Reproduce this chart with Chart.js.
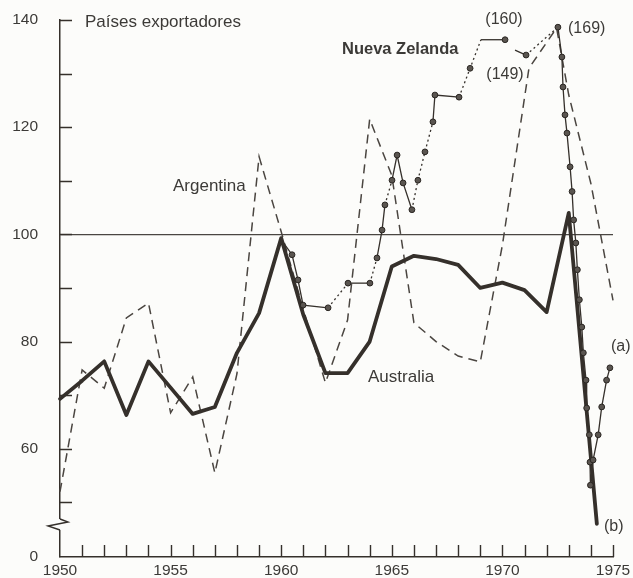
<!DOCTYPE html>
<html lang="es">
<head>
<meta charset="utf-8">
<title>Países exportadores</title>
<script src="https://cdn.jsdelivr.net/npm/chart.js@4/dist/chart.umd.min.js"></script>
<style>
  html, body { margin: 0; padding: 0; background: #fcfcfa; }
  #wrap { position: relative; width: 633px; height: 578px; }
</style>
</head>
<body>
<div id="wrap"><canvas id="c" width="633" height="578"></canvas></div>
<script>
// Australia: annual index, then the 1974 collapse (b)
const ausYears  = [1950,1951,1952,1953,1954,1955,1956,1957,1958,1959,1960,1961,1962,1963,1964,1965,1966,1967,1968,1969,1970,1971,1972,1973,1974.27];
const ausValues = [69.3,72.7,76.3,66.3,76.3,71.4,66.5,67.8,77.9,85.3,99.3,85.0,74.1,74.1,80.0,94.0,96.0,95.4,94.3,90.0,91.0,89.6,85.5,104.0,46.0];

// Argentina: annual index
const argYears  = [1950,1951,1952,1953,1954,1955,1956,1957,1958,1959,1960,1961,1962,1963,1964,1965,1966,1967,1968,1969,1970,1971.2,1972.45,1973,1974,1975];
const argValues = [52.0,74.7,71.3,84.4,87.2,66.7,73.4,55.5,74.0,114.5,100.5,86.0,72.3,84.0,121.5,111.0,83.5,80.0,77.3,76.2,98.0,131.0,138.5,126.0,109.5,87.7];

// Nueva Zelanda: sub-annual observations; null marks a break in the record, the last run is (a)
const nzYears  = [1960.0,1960.49,1960.76,1960.99,1962.12,1963.02,1964.01,1964.33,1964.56,1964.69,1965.01,1965.24,1965.51,1965.91,1966.18,1966.5,1966.86,1966.95,1968.04,1968.54,1969.03,1970.12,1970.35,1970.57,1971.07,1972.51,1972.69,1972.74,1972.83,1972.92,1973.06,1973.15,1973.22,1973.32,1973.39,1973.48,1973.59,1973.66,1973.78,1973.81,1973.93,1973.96,1973.98,1974.1,1974.33,1974.49,1974.71,1974.86];
const nzValues = [99.0,96.2,91.5,86.8,86.3,90.9,90.9,95.6,100.8,105.5,110.1,114.8,109.6,104.6,110.1,115.4,121.0,126.0,125.6,139.5,160,160,null,152.5,149,169,147.6,127.5,122.3,118.9,112.6,108.0,102.7,98.4,93.4,87.8,82.7,77.9,72.8,67.6,62.6,57.5,53.2,57.9,62.6,67.8,72.8,75.1];

// Axis ticks
const yFloor = 39.8;                       // bottom of the broken axis, labelled 0
const yTicks = [yFloor,50,60,70,80,90,100,110,120,130,140];
const yearLabels = [1950,1955,1960,1965,1970,1975];

// Values above the knee are drawn on a compressed strip at the top of the plot
const KNEE = 128, RATIO = 0.26;
const squash   = v => (v != null && v > KNEE) ? KNEE + (v - KNEE) * RATIO : v;
const unsquash = v => (v != null && v > KNEE) ? KNEE + (v - KNEE) / RATIO : v;

class CompressedTopScale extends Chart.LinearScale {
  getPixelForValue(v, i) { return super.getPixelForValue(squash(v), i); }
  getValueForPixel(p) { return unsquash(super.getValueForPixel(p)); }
}
CompressedTopScale.id = 'compressedTop';
CompressedTopScale.defaults = Chart.LinearScale.defaults;
Chart.register(CompressedTopScale);

const INK = '#35302b';
const TEXT = '#3c3a37';
const FONT = '"Liberation Sans", Arial, Helvetica, sans-serif';

const pts = (xs, ys) => xs.map((x, i) => ({ x, y: ys[i] }));

// No marker at the start of a run, nor at the corner where a jump turns into a flat stretch
const nzMarker = i => {
  const prev = nzValues[i - 1];
  if (i === 0 || prev == null) return 0;
  const corner = nzValues[i] - prev > 15 && nzValues[i + 1] === nzValues[i];
  return corner ? 0 : 2.9;
};

// Free text placed on the plot
const notes = [
  { text: 'Países exportadores', x: 85,  y: 22,  align: 'left',   size: 17 },
  { text: 'Nueva Zelanda',       x: 342, y: 49,  align: 'left',   size: 16.5, bold: true },
  { text: '(160)',               x: 504, y: 20,  align: 'center', size: 16 },
  { text: '(169)',               x: 568, y: 29,  align: 'left',   size: 16 },
  { text: '(149)',               x: 505, y: 75,  align: 'center', size: 16 },
  { text: 'Argentina',           x: 173, y: 186, align: 'left',   size: 17 },
  { text: 'Australia',           x: 368, y: 377, align: 'left',   size: 17 },
  { text: '(a)',                 x: 611, y: 347, align: 'left',   size: 16 },
  { text: '(b)',                 x: 604, y: 527, align: 'left',   size: 16 }
];

// Inward tick marks, broken-axis symbol and the free text
const decorations = {
  id: 'decorations',
  afterDraw(chart) {
    const { ctx, chartArea: a, scales: { x, y } } = chart;
    ctx.save();
    ctx.strokeStyle = INK;
    ctx.lineWidth = 1.4;
    ctx.beginPath();
    yTicks.forEach(v => {
      if (v === yFloor) return;
      const py = Math.round(y.getPixelForValue(v)) + 0.5;
      ctx.moveTo(a.left, py); ctx.lineTo(a.left + 12, py);
    });
    for (let yr = 1951; yr <= 1975; yr++) {
      const px = Math.round(x.getPixelForValue(yr)) + 0.5;
      ctx.moveTo(px, a.bottom); ctx.lineTo(px, a.bottom - 12);
    }
    ctx.stroke();

    // break in the vertical axis
    const b0 = a.bottom - 38, b1 = a.bottom - 27;
    ctx.fillStyle = '#fcfcfa';
    ctx.fillRect(a.left - 3, b0, 6, b1 - b0);
    ctx.beginPath();
    ctx.moveTo(a.left, b0);
    ctx.lineTo(a.left + 8, b0 + 3);
    ctx.lineTo(a.left - 12, b0 + 7);
    ctx.lineTo(a.left, b1);
    ctx.stroke();

    ctx.fillStyle = TEXT;
    ctx.textBaseline = 'middle';
    notes.forEach(n => {
      ctx.font = (n.bold ? 'bold ' : '') + n.size + 'px ' + FONT;
      ctx.textAlign = n.align;
      ctx.fillText(n.text, n.x, n.y);
    });
    ctx.restore();
  }
};

new Chart(document.getElementById('c'), {
  type: 'line',
  data: {
    datasets: [
      {
        label: 'Nueva Zelanda',
        data: pts(nzYears, nzValues),
        yAxisID: 'yNZ',
        order: 0,
        borderColor: INK,
        borderWidth: 1.3,
        spanGaps: false,
        clip: false,
        pointRadius: ctx => nzMarker(ctx.dataIndex),
        pointBackgroundColor: '#5a5550',
        pointBorderColor: '#2a2622',
        pointBorderWidth: 1,
        segment: {
          borderDash: ctx => (ctx.p1.parsed.y > ctx.p0.parsed.y && ctx.p1.parsed.x - ctx.p0.parsed.x > 0.25) ? [2, 3] : undefined
        }
      },
      {
        label: 'Australia',
        data: pts(ausYears, ausValues),
        order: 1,
        borderColor: INK,
        borderWidth: 3.8,
        borderJoinStyle: 'round',
        borderCapStyle: 'round',
        pointRadius: 0,
        clip: false
      },
      {
        label: 'Argentina',
        data: pts(argYears, argValues),
        order: 2,
        borderColor: '#4a4540',
        borderWidth: 1.5,
        borderDash: [9, 6],
        pointRadius: 0,
        clip: false
      }
    ]
  },
  options: {
    responsive: false,
    animation: false,
    devicePixelRatio: 1,
    layout: { autoPadding: false, padding: { left: 0, right: 20, top: 20, bottom: 0 } },
    plugins: { legend: { display: false }, tooltip: { enabled: false } },
    elements: { line: { tension: 0 } },
    scales: {
      x: {
        type: 'linear',
        min: 1950, max: 1975,
        afterFit: s => { s.height = 21; },
        grid: { display: true, drawOnChartArea: false, drawTicks: true, tickLength: 5, tickColor: 'rgba(0,0,0,0)' },
        border: { display: true, color: INK, width: 1.5 },
        ticks: {
          stepSize: 1,
          autoSkip: false,
          maxRotation: 0,
          padding: 1,
          color: TEXT,
          font: { family: FONT, size: 15.5, lineHeight: 1 },
          callback: v => yearLabels.includes(Math.round(v)) ? String(Math.round(v)) : ''
        }
      },
      y: {
        type: 'linear',
        min: yFloor, max: 140,
        afterBuildTicks: s => { s.ticks = yTicks.map(v => ({ value: v })); },
        afterFit: s => { s.width = 60; },
        grid: {
          drawTicks: true,
          tickLength: 20,
          tickColor: 'rgba(0,0,0,0)',
          lineWidth: 1.3,
          color: ctx => (ctx.tick && ctx.tick.value === 100) ? '#4a4642' : 'rgba(0,0,0,0)'
        },
        border: { display: true, color: INK, width: 1.5 },
        ticks: {
          padding: 2,
          color: TEXT,
          font: { family: FONT, size: 15.5 },
          callback: v => v === yFloor ? '0' : (v % 20 === 0 ? String(v) : '')
        }
      },
      yNZ: {
        type: 'compressedTop',
        display: false,
        min: yFloor, max: 140
      }
    }
  },
  plugins: [decorations]
});
</script>
</body>
</html>
